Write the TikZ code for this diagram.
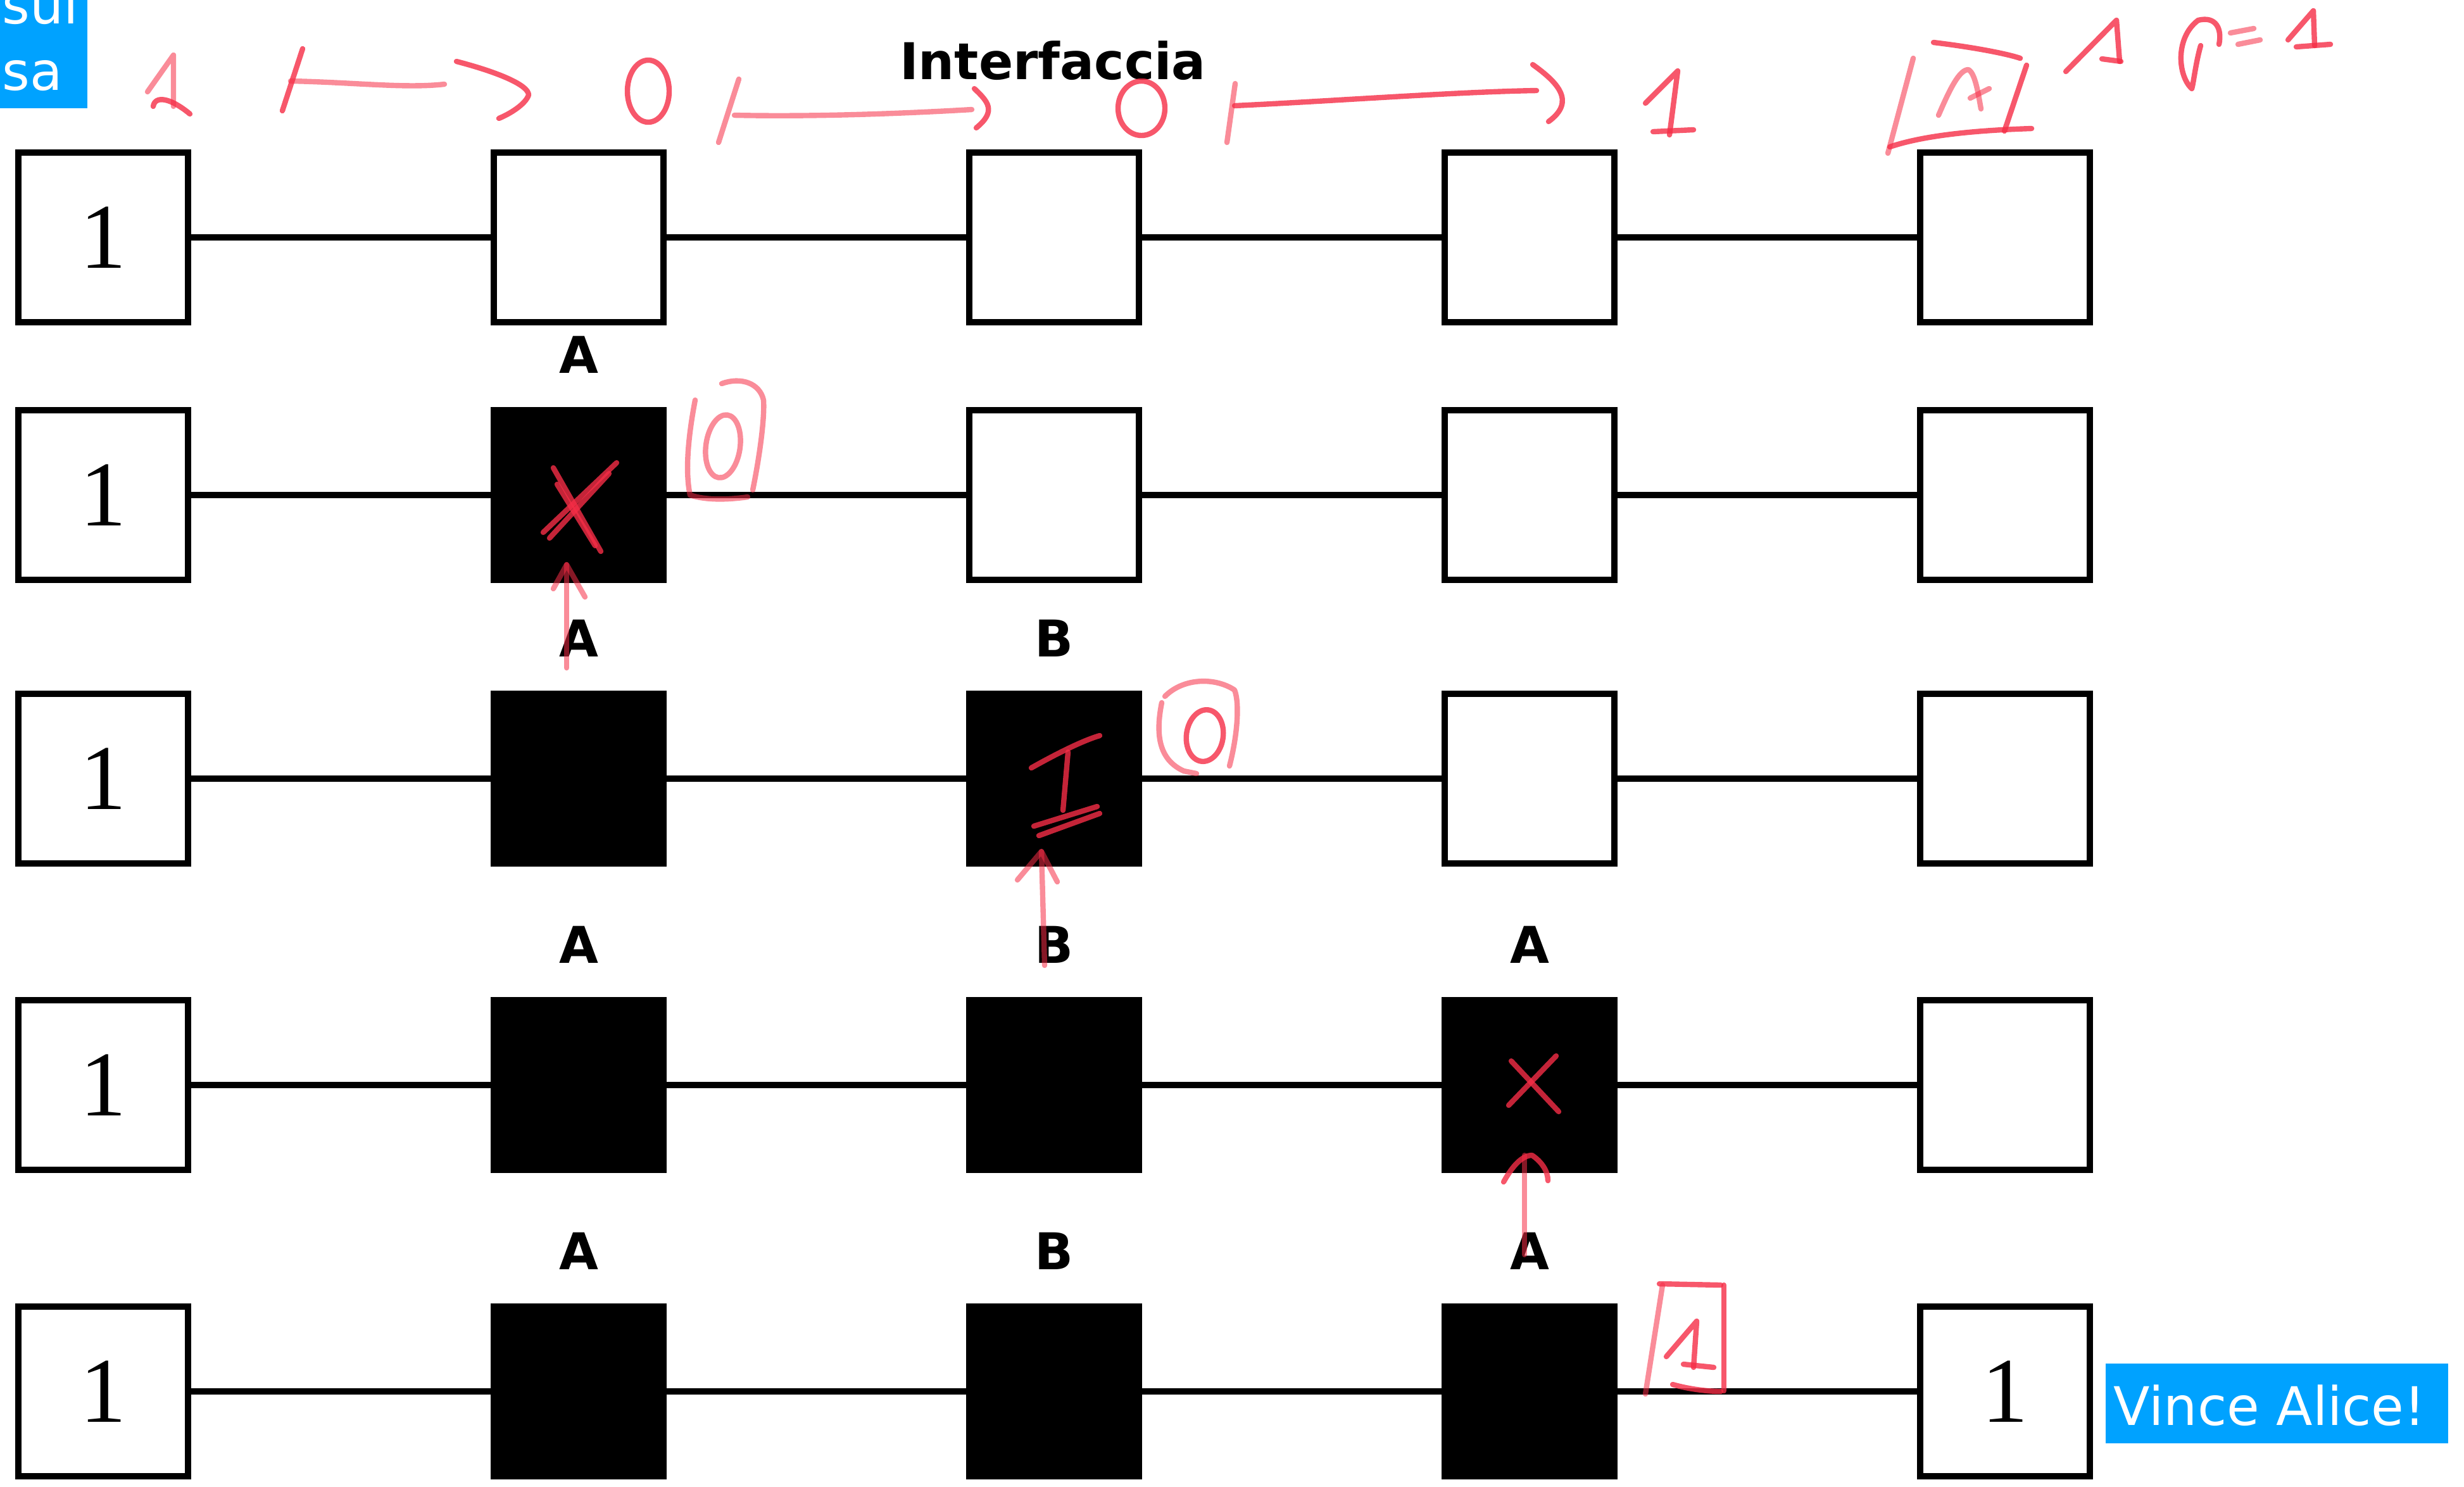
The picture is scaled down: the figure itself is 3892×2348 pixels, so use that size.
\documentclass[tikz,border=0pt]{standalone}
\usepackage{fontspec}
\newfontfamily\djs{DejaVu Sans}
\newfontfamily\djb{DejaVu Sans Bold}
\newfontfamily\lserif{Liberation Serif}
\definecolor{bluebox}{RGB}{0,162,255}
\definecolor{handred}{RGB}{245,45,70}
\begin{document}
\begin{tikzpicture}[x=0.25pt,y=-0.25pt,
  cell/.style={draw=black,line width=2.6pt,fill=white,minimum size=66.9pt,inner sep=0pt,
    font=\lserif\fontsize{36.6}{38}\selectfont},
  cellon/.style={cell,fill=black},
  link/.style={draw=black,line width=2.6pt},
  lab/.style={anchor=base,inner sep=0pt,font=\djb\fontsize{20}{22}\selectfont},
  bluetxt/.style={anchor=base west,inner sep=0pt,text=white,font=\djs\fontsize{21}{23}\selectfont},
  hand/.style={draw=handred,line width=2.1pt,line cap=round,line join=round,opacity=0.8},
  handl/.style={hand,opacity=0.55}]
\useasboundingbox (0,0) rectangle (3892,2348);
% row 1
\node[cell] (r1-1) at (163,375) {1};
\node[cell] (r1-2) at (914,375) {};
\node[cell] (r1-3) at (1665,375) {};
\node[cell] (r1-4) at (2416,375) {};
\node[cell] (r1-5) at (3167,375) {};
% row 2
\node[cell] (r2-1) at (163,782) {1};
\node[cellon] (r2-2) at (914,782) {};
\node[cell] (r2-3) at (1665,782) {};
\node[cell] (r2-4) at (2416,782) {};
\node[cell] (r2-5) at (3167,782) {};
% row 3
\node[cell] (r3-1) at (163,1230) {1};
\node[cellon] (r3-2) at (914,1230) {};
\node[cellon] (r3-3) at (1665,1230) {};
\node[cell] (r3-4) at (2416,1230) {};
\node[cell] (r3-5) at (3167,1230) {};
% row 4
\node[cell] (r4-1) at (163,1714) {1};
\node[cellon] (r4-2) at (914,1714) {};
\node[cellon] (r4-3) at (1665,1714) {};
\node[cellon] (r4-4) at (2416,1714) {};
\node[cell] (r4-5) at (3167,1714) {};
% row 5
\node[cell] (r5-1) at (163,2198) {1};
\node[cellon] (r5-2) at (914,2198) {};
\node[cellon] (r5-3) at (1665,2198) {};
\node[cellon] (r5-4) at (2416,2198) {};
\node[cell] (r5-5) at (3167,2198) {1};
% connectors
\foreach \r in {1,...,5}{
  \foreach \a/\b in {1/2,2/3,3/4,4/5}{
    \draw[link] (r\r-\a) -- (r\r-\b);
  }
}
% labels
\node[lab] (title) at (1663,125) {Interfaccia};
\node[lab] (l2a) at (914,589) {A};
\node[lab] (l3a) at (914,1037) {A};
\node[lab] (l3b) at (1665,1037) {B};
\node[lab] (l4a) at (914,1521) {A};
\node[lab] (l4b) at (1665,1521) {B};
\node[lab] (l4c) at (2416,1521) {A};
\node[lab] (l5a) at (914,2005) {A};
\node[lab] (l5b) at (1665,2005) {B};
\node[lab] (l5c) at (2416,2005) {A};
% blue boxes
\fill[bluebox] (0,0) rectangle (138,171);
\node[bluetxt] (sul) at (3,37) {sul};
\node[bluetxt] (sa) at (3,142) {sa};
\fill[bluebox] (3326,2154) rectangle (3867,2280);
\node[bluetxt] (vince) at (3338,2251) {Vince Alice!};
% ---- handwriting, top line
\draw[handl] (233,145) -- (274,87) -- (274,168);
\draw[hand] (242,168) .. controls (245,150) and (270,155) .. (300,180);
\draw[hand] (478,77) -- (446,175);
\draw[handl] (459,128) .. controls (560,130) and (640,140) .. (702,133);
\draw[hand] (721,97) .. controls (790,115) and (835,135) .. (835,150) .. controls (830,165) and (805,180) .. (788,187);
\draw[hand] (1024,144) ellipse [x radius=8.25pt, y radius=12.25pt];
\draw[handl] (1167,125) -- (1135,225);
\draw[handl] (1160,182) .. controls (1300,185) and (1450,178) .. (1535,173);
\draw[hand] (1539,140) .. controls (1560,160) and (1575,175) .. (1542,202);
\draw[hand] (1803,171) ellipse [x radius=9.25pt, y radius=10.75pt];
\draw[handl] (1951,132) -- (1938,225);
\draw[hand] (1950,167) .. controls (2100,160) and (2300,145) .. (2427,143);
\draw[hand] (2421,102) .. controls (2460,130) and (2490,160) .. (2446,192);
\draw[hand] (2599,163) -- (2650,112) -- (2637,213);
\draw[hand] (2611,208) -- (2675,205);
% boxed A
\draw[handl] (3022,92) -- (2982,242);
\draw[hand] (2985,232) .. controls (3050,210) and (3150,205) .. (3209,203);
\draw[hand] (3201,103) -- (3166,207);
\draw[hand] (3054,67) .. controls (3120,75) and (3170,85) .. (3191,92);
\draw[handl] (3062,182) .. controls (3080,140) and (3095,110) .. (3109,110) .. controls (3120,115) and (3125,150) .. (3129,172);
\draw[handl] (3112,155) -- (3142,140);
\draw[hand] (3263,113) -- (3343,32) -- (3348,97);
\draw[hand] (3320,93) -- (3350,97);
\draw[hand] (3476,72) .. controls (3468,100) and (3465,130) .. (3462,140) .. controls (3440,120) and (3435,60) .. (3472,32) .. controls (3500,25) and (3510,45) .. (3505,70);
\draw[handl] (3523,52) -- (3560,45);
\draw[handl] (3535,70) -- (3570,63);
\draw[hand] (3614,63) -- (3654,17) -- (3656,72);
\draw[hand] (3627,74) -- (3681,70);
% ---- row 2
\draw[hand] (874,739) -- (949,871);
\draw[hand] (880,765) -- (940,862);
\draw[hand] (974,731) -- (858,841);
\draw[hand] (962,748) -- (868,850);
\draw[handl] (895,1055) -- (895,892);
\draw[handl] (874,930) -- (895,892) -- (924,943);
\draw[handl] (1098,632) .. controls (1085,700) and (1083,750) .. (1090,782) .. controls (1120,792) and (1160,788) .. (1181,785);
\draw[handl] (1189,774) .. controls (1200,720) and (1208,660) .. (1206,632) .. controls (1200,605) and (1170,595) .. (1140,606);
\draw[handl, rotate around={-8:(1142,705)}] (1142,705) ellipse [x radius=6.75pt, y radius=12.5pt];
% ---- row 3
\draw[hand] (1629,1213) .. controls (1670,1190) and (1710,1170) .. (1737,1162);
\draw[hand] (1687,1188) -- (1679,1280);
\draw[hand] (1633,1305) -- (1733,1274);
\draw[hand] (1641,1320) -- (1737,1285);
\draw[handl] (1645,1345) -- (1650,1525);
\draw[handl] (1607,1390) -- (1645,1345) -- (1670,1393);
\draw[handl] (1835,1110) .. controls (1825,1160) and (1830,1200) .. (1870,1218) -- (1890,1222);
\draw[handl] (1942,1210) .. controls (1955,1160) and (1958,1110) .. (1950,1090) .. controls (1920,1070) and (1870,1070) .. (1840,1100);
\draw[hand, rotate around={-8:(1903,1162)}] (1903,1162) ellipse [x radius=7.25pt, y radius=10.25pt];
% ---- row 4
\draw[hand] (2387,1676) -- (2462,1756);
\draw[hand] (2458,1668) -- (2383,1746);
\draw[handl] (2408,1982) -- (2408,1825);
\draw[hand] (2375,1867) .. controls (2390,1840) and (2405,1825) .. (2420,1825) .. controls (2435,1835) and (2445,1850) .. (2445,1865);
% ---- row 5
\draw[handl] (2626,2030) -- (2599,2202);
\draw[hand] (2621,2028) -- (2718,2030);
\draw[hand] (2723,2030) -- (2723,2197);
\draw[hand] (2642,2187) .. controls (2670,2195) and (2700,2198) .. (2718,2198);
\draw[hand] (2632,2143) -- (2680,2087) -- (2675,2160);
\draw[hand] (2659,2155) -- (2707,2160);
\end{tikzpicture}
\end{document}
